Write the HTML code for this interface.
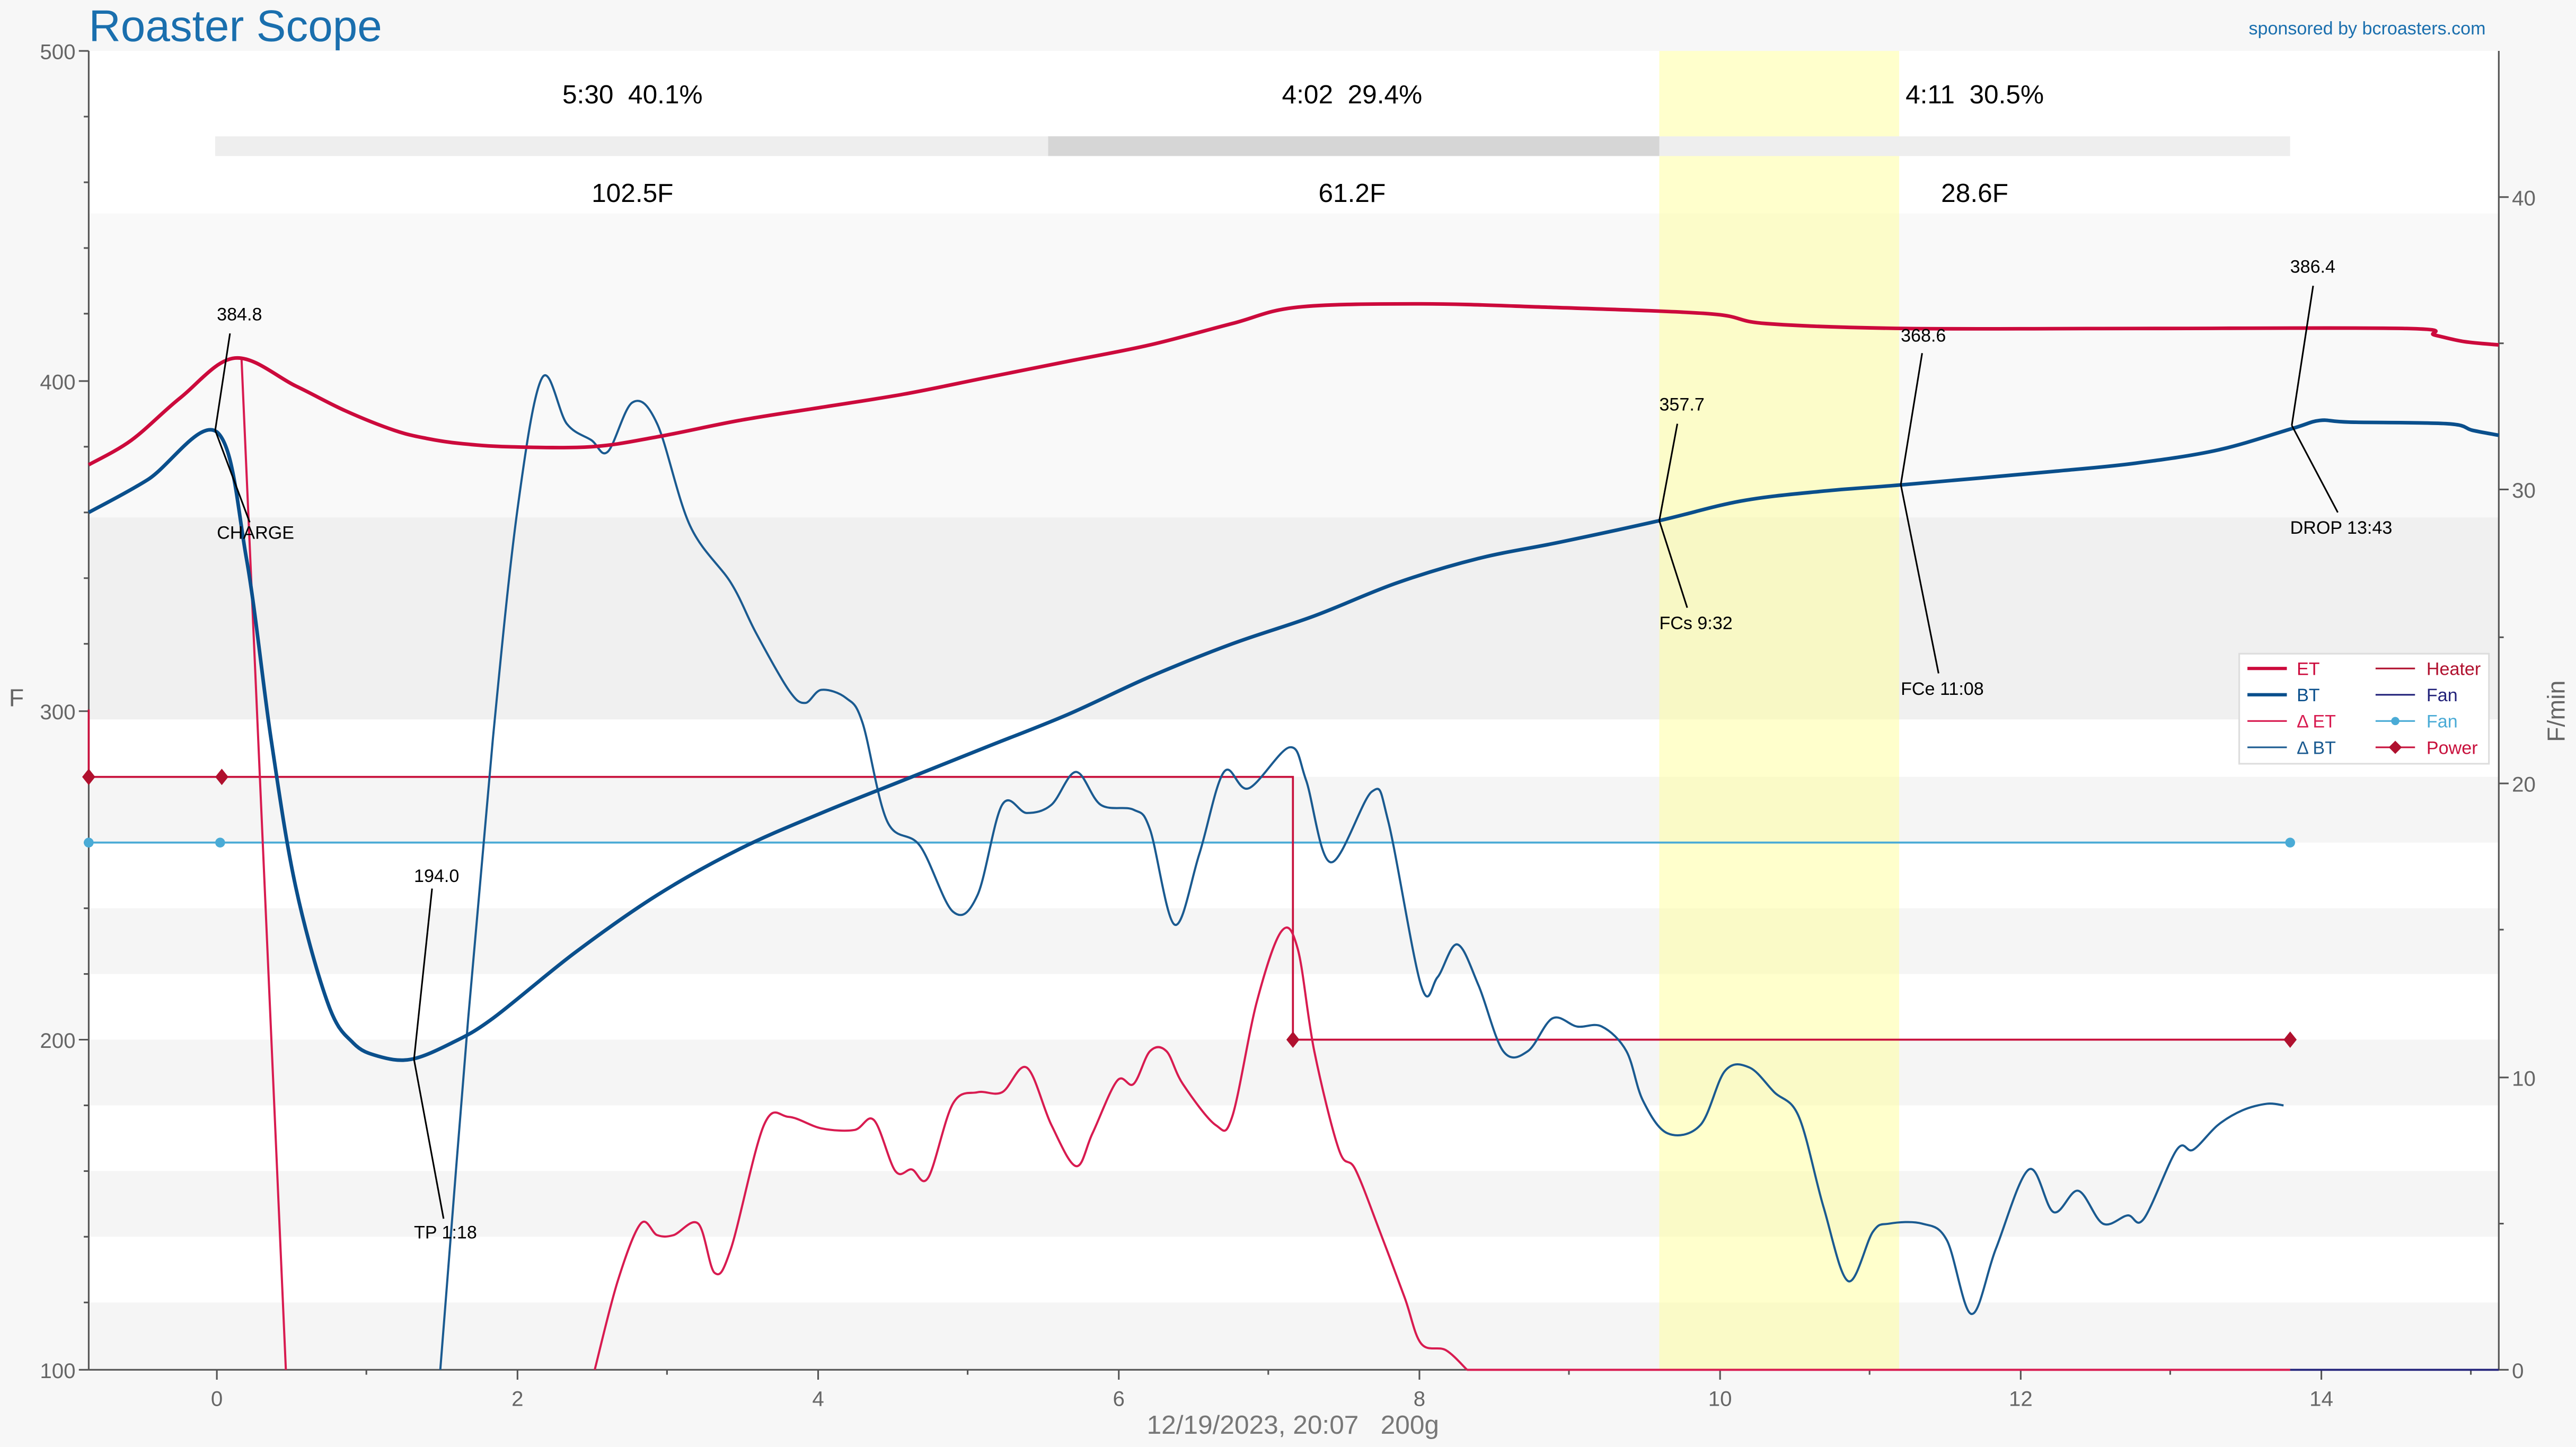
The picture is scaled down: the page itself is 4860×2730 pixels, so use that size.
<!DOCTYPE html>
<html><head><meta charset="utf-8"><style>
html,body{margin:0;padding:0;background:#f7f7f7}
svg{display:block}
text{font-family:"Liberation Sans",sans-serif;white-space:pre}
</style></head><body>
<svg id="s" width="4860" height="2730" viewBox="0 0 1568 881" preserveAspectRatio="none" xmlns="http://www.w3.org/2000/svg" xml:space="preserve">
<rect x="0" y="0" width="1568" height="881" fill="#f7f7f7"/>
<rect x="54" y="31" width="1467" height="803" fill="#ffffff"/>
<rect x="54" y="130" width="1467" height="185" fill="#f9f9f9"/>
<rect x="54" y="315" width="1467" height="123" fill="#f0f0f0"/>
<g fill="#f5f5f5">
<rect x="54" y="473" width="1467" height="40"/>
<rect x="54" y="553" width="1467" height="40"/>
<rect x="54" y="633" width="1467" height="40"/>
<rect x="54" y="713" width="1467" height="40"/>
<rect x="54" y="793" width="1467" height="41"/>
</g>
<rect x="1010" y="31" width="146" height="803" fill="#ffff99" opacity="0.5"/>
<rect x="131" y="83" width="1263" height="12" fill="#eeeeee"/>
<rect x="638" y="83" width="372" height="12" fill="#d6d6d6"/>
<g font-size="16" text-anchor="middle" fill="#000">
<text x="385" y="63">5:30  40.1%</text><text x="823" y="63">4:02  29.4%</text><text x="1202" y="63">4:11  30.5%</text>
<text x="385" y="123">102.5F</text><text x="823" y="123">61.2F</text><text x="1202" y="123">28.6F</text>
</g>
<text x="54" y="25" font-size="27" fill="#1a6fae">Roaster Scope</text>
<text x="1513" y="21" font-size="11" fill="#1a6fae" text-anchor="end">sponsored by bcroasters.com</text>
<g stroke="#555" stroke-width="1" fill="none">
<line x1="54" y1="31" x2="54" y2="834"/><line x1="1521" y1="31" x2="1521" y2="834"/><line x1="54" y1="834" x2="1521" y2="834"/>
<path d="M48 31H54M48 232H54M48 433H54M48 633H54M48 834H54M51 71H54M51 111H54M51 151H54M51 191H54M51 272H54M51 312H54M51 352H54M51 392H54M51 473H54M51 513H54M51 553H54M51 593H54M51 673H54M51 713H54M51 753H54M51 793H54"/>
<path d="M1521 834H1527M1521 656H1527M1521 477H1527M1521 298H1527M1521 120H1527M1521 745H1524M1521 566H1524M1521 388H1524M1521 209H1524"/>
<path d="M132 834V840M315 834V840M498 834V840M681 834V840M864 834V840M1047 834V840M1230 834V840M1413 834V840M223 834V837M406 834V837M589 834V837M772 834V837M955 834V837M1138 834V837M1321 834V837M1504 834V837"/>
</g>
<g font-size="13" fill="#666" text-anchor="end">
<text x="46" y="36">500</text><text x="46" y="237">400</text><text x="46" y="438">300</text><text x="46" y="638">200</text><text x="46" y="839">100</text>
</g>
<g font-size="13" fill="#666">
<text x="1529" y="839">0</text><text x="1529" y="661">10</text><text x="1529" y="482">20</text><text x="1529" y="303">30</text><text x="1529" y="125">40</text>
</g>
<g font-size="13" fill="#666" text-anchor="middle">
<text x="132" y="856">0</text><text x="315" y="856">2</text><text x="498" y="856">4</text><text x="681" y="856">6</text><text x="864" y="856">8</text><text x="1047" y="856">10</text><text x="1230" y="856">12</text><text x="1413" y="856">14</text>
</g>
<text x="787" y="873" font-size="16" fill="#777" text-anchor="middle">12/19/2023, 20:07   200g</text>
<text x="10" y="430" font-size="15" fill="#666" text-anchor="middle">F</text>
<text x="1561" y="433" font-size="15" fill="#666" text-anchor="middle" transform="rotate(-90 1561 433)">F/min</text>
<line x1="54" y1="513" x2="1394" y2="513" stroke="#4aabd6" stroke-width="1.2"/>
<g fill="#4aabd6"><circle cx="54" cy="513" r="3"/><circle cx="134" cy="513" r="3"/><circle cx="1394" cy="513" r="3"/></g>
<path d="M54 432V473H787V633H1394" stroke="#c8103c" stroke-width="1.2" fill="none"/>
<g fill="#b0102e"><path d="M54 468l4 5-4 5-4-5z"/><path d="M135 468l4 5-4 5-4-5z"/><path d="M787 628l4 5-4 5-4-5z"/><path d="M1394 628l4 5-4 5-4-5z"/></g>
<line x1="1394" y1="834" x2="1521" y2="834" stroke="#22227a" stroke-width="1.2"/>
<path d="M147 218L174 834M893 834H1394" stroke="#d81b50" stroke-width="1.3" fill="none"/>
<polyline class="sm" fill="none" stroke="#d81b50" stroke-width="1.3" points="362,834 376,780 390,745 400,752 410,752 425,745 435,775 445,760 465,685 480,680 500,687 520,688 532,682 545,713 555,712 565,717 580,672 595,665 610,665 625,650 640,685 655,710 665,690 680,658 690,660 700,640 710,640 720,660 740,685 750,680 765,610 780,567 790,578 800,640 815,700 825,712 840,750 855,790 865,818 880,822 893,834"/>
<polyline class="sm" fill="none" stroke="#1a5a90" stroke-width="1.3" points="268,834 285,620 300,450 315,310 330,230 345,258 360,268 370,275 385,245 400,258 420,320 445,355 460,385 480,420 490,428 500,420 515,425 525,440 540,500 560,515 580,555 595,545 610,490 625,495 640,490 655,470 670,490 690,493 700,505 715,563 730,520 745,470 760,480 785,455 795,475 810,525 835,482 845,500 865,600 875,595 887,575 900,600 915,640 930,640 945,620 960,625 975,625 990,640 1000,670 1015,690 1035,685 1050,652 1065,650 1080,665 1095,680 1110,735 1125,780 1140,750 1150,745 1170,745 1185,755 1200,800 1215,760 1235,712 1250,738 1265,725 1280,745 1295,740 1305,742 1325,700 1335,700 1350,685 1365,676 1380,672 1390,673"/>
<polyline class="sm" fill="none" stroke="#cc0a3c" stroke-width="2.2" points="54,283 80,268 110,242 143,218 180,235 210,250 240,262 260,267 280,270 310,272 360,272 400,266 450,256 500,248 550,240 600,230 650,220 700,210 750,197 790,187 865,185 940,187 1040,191 1075,197 1160,200 1300,200 1465,200 1482,204 1500,208 1521,210"/>
<polyline class="sm" fill="none" stroke="#0a4f8c" stroke-width="2.2" points="54,312 90,292 132,263 150,340 165,450 180,540 200,612 215,635 230,643 250,645 275,635 300,620 350,580 400,545 450,517 500,495 550,475 600,455 650,435 700,412 750,392 800,375 850,355 900,340 950,330 1010,317 1060,305 1110,299 1160,295 1250,287 1300,282 1350,274 1395,261 1412,256 1430,257 1490,258 1505,262 1521,265"/>
<g stroke="#000" stroke-width="1" fill="none">
<path d="M131 262L140 203M131 262L152 318"/>
<path d="M252 645L263 541M252 645L270 742"/>
<path d="M1010 317L1021 258M1010 317L1027 370"/>
<path d="M1157 295L1170 215M1157 295L1180 410"/>
<path d="M1395 259L1408 174M1395 259L1423 312"/>
</g>
<g font-size="11" fill="#000">
<text x="132" y="195">384.8</text><text x="132" y="328">CHARGE</text>
<text x="252" y="537">194.0</text><text x="252" y="754">TP 1:18</text>
<text x="1010" y="250">357.7</text><text x="1010" y="383">FCs 9:32</text>
<text x="1157" y="208">368.6</text><text x="1157" y="423">FCe 11:08</text>
<text x="1394" y="166">386.4</text><text x="1394" y="325">DROP 13:43</text>
</g>
<rect x="1363" y="398" width="152" height="67" fill="#fff" stroke="#ddd"/>
<g font-size="11">
<line x1="1368" y1="407" x2="1392" y2="407" stroke="#cc0a3c" stroke-width="2"/><text x="1398" y="411" fill="#cc0a3c">ET</text>
<line x1="1368" y1="423" x2="1392" y2="423" stroke="#0a4f8c" stroke-width="2"/><text x="1398" y="427" fill="#0a4f8c">BT</text>
<line x1="1368" y1="439" x2="1392" y2="439" stroke="#d81b50"/><text x="1398" y="443" fill="#d81b50">Δ ET</text>
<line x1="1368" y1="455" x2="1392" y2="455" stroke="#1a5a90"/><text x="1398" y="459" fill="#1a5a90">Δ BT</text>
<line x1="1446" y1="407" x2="1470" y2="407" stroke="#b0102e"/><text x="1477" y="411" fill="#b0102e">Heater</text>
<line x1="1446" y1="423" x2="1470" y2="423" stroke="#22227a"/><text x="1477" y="427" fill="#22227a">Fan</text>
<line x1="1446" y1="439" x2="1470" y2="439" stroke="#4aabd6"/><circle cx="1458" cy="439" r="2.5" fill="#4aabd6"/><text x="1477" y="443" fill="#4aabd6">Fan</text>
<line x1="1446" y1="455" x2="1470" y2="455" stroke="#c8103c"/><path d="M1458 451l4 4-4 4-4-4z" fill="#b0102e"/><text x="1477" y="459" fill="#c8103c">Power</text>
</g>
</svg>
<script>
document.querySelectorAll('polyline.sm').forEach(function(pl){
var p=pl.getAttribute('points').trim().split(/\s+/).map(function(s){return s.split(',').map(Number);});
var d='M'+p[0][0]+' '+p[0][1];
for(var i=0;i<p.length-1;i++){
var p0=p[i-1]||p[i],p1=p[i],p2=p[i+1],p3=p[i+2]||p2;
var c1x=p1[0]+(p2[0]-p0[0])/6,c1y=p1[1]+(p2[1]-p0[1])/6,c2x=p2[0]-(p3[0]-p1[0])/6,c2y=p2[1]-(p3[1]-p1[1])/6;
d+=' C'+c1x+' '+c1y+' '+c2x+' '+c2y+' '+p2[0]+' '+p2[1];}
var np=document.createElementNS('http://www.w3.org/2000/svg','path');
['fill','stroke','stroke-width'].forEach(function(a){np.setAttribute(a,pl.getAttribute(a));});
np.setAttribute('d',d);pl.parentNode.replaceChild(np,pl);});
</script>
</body></html>
